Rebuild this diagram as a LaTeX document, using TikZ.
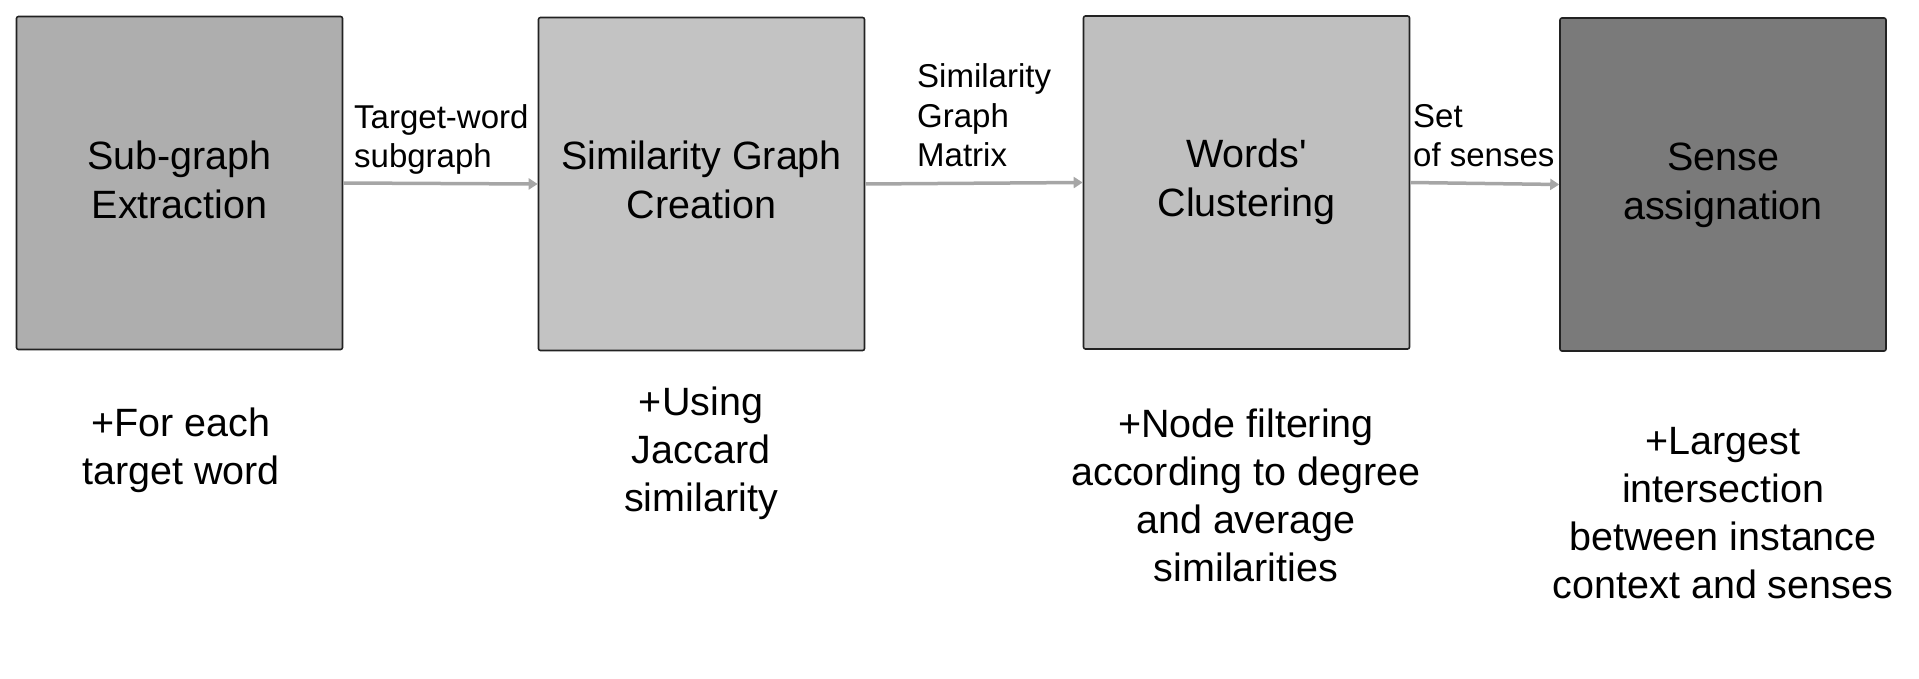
\documentclass[tikz,border=0pt]{standalone}
\usepackage{fontspec}
\setmainfont{Liberation Sans}
\newfontfamily\plainapos{Liberation Sans}
\usetikzlibrary{arrows.meta}
\definecolor{c1}{HTML}{AEAEAE}
\definecolor{c2}{HTML}{C3C3C3}
\definecolor{c3}{HTML}{BFBFBF}
\definecolor{c4}{HTML}{7A7A7A}
\definecolor{arrgray}{HTML}{A6A6A6}
\definecolor{edgegray}{HTML}{222222}
\begin{document}
\begin{tikzpicture}[x=1pt,y=-1pt,
  stage/.style={draw=edgegray,line width=1.6pt,rounded corners=2pt,minimum width=326pt,minimum height=333pt,inner sep=0pt},
  stagetext/.style={align=center,inner sep=0pt,anchor=base,font=\fontsize{39.5}{49}\selectfont},
  note/.style={align=center,inner sep=0pt,anchor=base,font=\fontsize{39.5}{48}\selectfont},
  elabel/.style={align=left,inner sep=0pt,anchor=base west,font=\fontsize{33}{39.5}\selectfont},
  arr/.style={draw=arrgray,line width=3.5pt,-{Triangle[length=9pt,width=11pt]}}]
\useasboundingbox (0,0) rectangle (1919,679);
\node[stage,fill=c1] (b1) at (179.5,183) {};
\node[stage,fill=c2] (b2) at (701.5,184) {};
\node[stage,fill=c3] (b3) at (1246.5,182.5) {};
\node[stage,fill=c4] (b4) at (1723,184.5) {};
\node[stagetext] (s1) at (179.5,218.5) {Sub-graph\\Extraction};
\node[stagetext] (s2) at (701.5,218.5) {Similarity Graph\\Creation};
\node[stagetext] (s3) at (1246.5,217) {Words{\plainapos'}\\Clustering};
\node[stagetext] (s4) at (1723,219) {Sense\\assignation};
\draw[arr] (b1.east) -- (b2.west);
\draw[arr] (b2.east) -- (b3.west);
\draw[arr] (b3.east) -- (b4.west);
\node[elabel] (l1) at (354,168) {Target-word\\subgraph};
\node[elabel] (l2) at (917,167) {Similarity\\Graph\\Matrix};
\node[elabel] (l3) at (1413,167) {Set\\of senses};
\node[note] (t1) at (181,484) {+For each\\target word};
\node[note] (t2) at (701,511) {+Using\\Jaccard\\similarity};
\node[note] (t3) at (1246,581) {+Node filtering\\according to degree\\and average\\similarities};
\node[note] (t4) at (1723,598) {+Largest\\intersection\\between instance\\context and senses};
\end{tikzpicture}
\end{document}
